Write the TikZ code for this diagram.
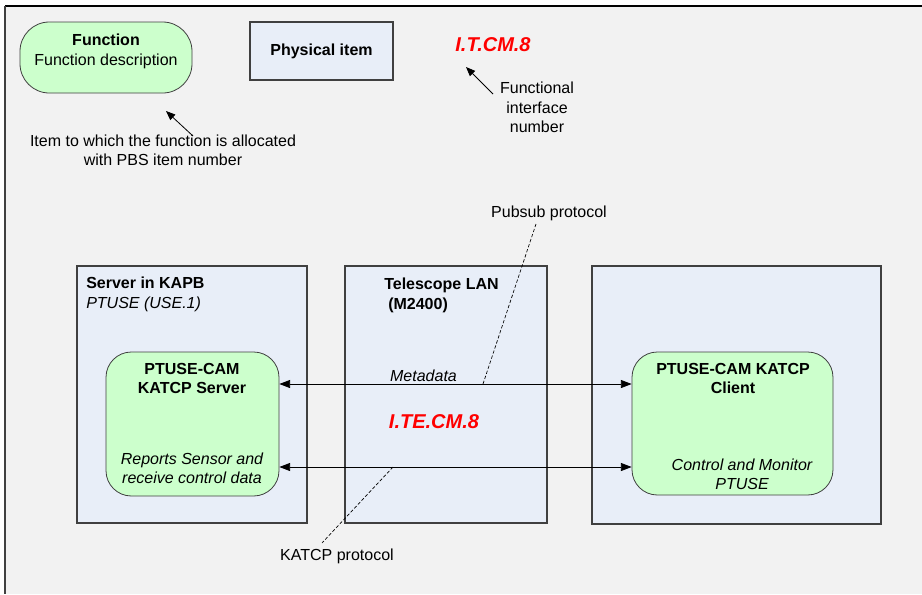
\documentclass[tikz,border=0pt]{standalone}
\usepackage{fontspec}
\setmainfont{Liberation Sans}
\usetikzlibrary{arrows.meta}
\definecolor{bgc}{HTML}{F2F2F2}
\definecolor{grn}{HTML}{CCFFCC}
\definecolor{blu}{HTML}{E8EEF8}
\definecolor{edge}{HTML}{404040}
\begin{document}
\begin{tikzpicture}[x=0.75pt,y=-0.75pt,
  font=\fontsize{12}{15}\selectfont,
  func/.style={draw=edge, fill=grn, rounded corners=19pt, inner sep=0pt, line width=0.6pt},
  item/.style={draw=edge, fill=blu, inner sep=0pt, line width=0.8pt},
  lbl/.style={inner sep=0pt, align=center},
  redlbl/.style={text=red, font=\fontsize{15}{18}\selectfont\bfseries\itshape, inner sep=0pt},
  conn/.style={{Triangle[length=8pt,width=6pt]}-{Triangle[length=8pt,width=6pt]}, line width=0.6pt},
  pointer/.style={-{Triangle[length=7pt,width=5.5pt]}, line width=0.6pt},
  lead/.style={line width=0.5pt, dash pattern=on 2.5pt off 1.5pt}]
\useasboundingbox (0,0) rectangle (922,594);
% background frame
\fill[white] (0,0) rectangle (922,594);
\fill[bgc] (5,6) rectangle (922,594);
\draw[black, line width=1.2pt] (5,6) -- (922,6);
\draw[edge, line width=0.8pt] (5,6) -- (5,594);

% legend
\node[func, minimum width=129pt, minimum height=53.25pt, rounded corners=22pt] (legfunc) at (106,57.5) {};
\node[lbl] (legfunctxt) at (106,51.5) {\textbf{Function}\\Function description};
\node[item, minimum width=107.25pt, minimum height=43.5pt, font=\fontsize{12}{15}\selectfont\bfseries] (legitem) at (321.5,51) {Physical item};
\node[redlbl] (legif) at (493,45) {I.T.CM.8};
\node[lbl, font=\fontsize{12}{14.6}\selectfont] (legiftxt) at (537,107.5) {Functional\\interface\\number};
\node[lbl, font=\fontsize{12}{14.3}\selectfont] (legfunctxt2) at (163,150.5) {Item to which the function is allocated\\with PBS item number};
\coordinate (ftail) at (193,136);
\coordinate (ftip) at (166,111);
\coordinate (itail) at (493,94);
\coordinate (itip) at (466,67);
\draw[pointer] (ftail) -- (ftip);
\draw[pointer] (itail) -- (itip);

% physical items
\node[item, minimum width=172.5pt, minimum height=192.75pt] (server) at (192,394.5) {};
\node[item, minimum width=151.5pt, minimum height=192.75pt] (lan) at (446,394.5) {};
\node[item, minimum width=216.75pt, minimum height=193.5pt] (client) at (736.5,395) {};
\node[lbl, align=left, anchor=west] (servertitle) at (86,294) {\textbf{Server in KAPB}\\\textit{PTUSE (USE.1)}};
\node[lbl, align=left, anchor=west, font=\fontsize{12}{15}\selectfont\bfseries] (lantitle) at (384,295) {Telescope LAN\\\hspace*{3pt}(M2400)};

% functions
\node[func, minimum width=129.75pt, minimum height=108pt] (sfunc) at (192.5,424) {};
\node[func, minimum width=150.75pt, minimum height=107.25pt] (cfunc) at (732.5,423.5) {};
\node[lbl, font=\fontsize{12}{14.3}\selectfont\bfseries] (sfunctitle) at (192,378.5) {PTUSE-CAM\\KATCP Server};
\node[lbl, font=\fontsize{12}{14.3}\selectfont\itshape] (sfuncdesc) at (192,468.5) {Reports Sensor and\\receive control data};
\node[lbl, font=\fontsize{12}{14.3}\selectfont\bfseries] (cfunctitle) at (733,378.5) {PTUSE-CAM KATCP\\Client};
\node[lbl, font=\fontsize{12}{14.3}\selectfont\itshape] (cfuncdesc) at (742,474.5) {Control and Monitor\\PTUSE};

% interfaces
\draw[conn] (sfunc.east |- 0,384) -- (cfunc.west |- 0,384);
\draw[conn] (sfunc.east |- 0,467) -- (cfunc.west |- 0,467);
\node[lbl, font=\fontsize{12}{15}\selectfont\itshape] (meta) at (423.5,376) {Metadata};
\node[redlbl] (ifnum) at (434,422) {I.TE.CM.8};

% protocol labels
\node[lbl] (pubsub) at (549,213) {Pubsub protocol};
\node[lbl] (katcp) at (337,556) {KATCP protocol};
\coordinate (pubpt) at (483,384);
\coordinate (pubend) at (536,224);
\coordinate (katpt) at (393,467);
\coordinate (katend) at (322,543);
\draw[lead] (pubpt) -- (pubend);
\draw[lead] (katpt) -- (katend);
\end{tikzpicture}
\end{document}
